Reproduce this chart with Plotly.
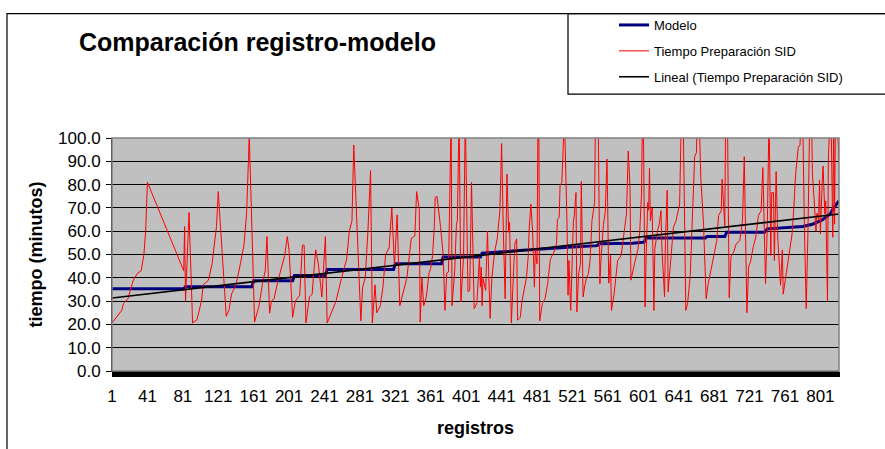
import plotly.graph_objects as go

# ---------------- data ----------------
registro_tiempo = [1, 12, 14, 19, 25, 30, 34, 37, 39, 41, 82, 83, 84, 88, 92, 97, 102, 104, 110, 114,
    119, 121, 130, 133, 136, 141, 146, 150, 153, 156, 162, 167, 171, 174, 176, 179, 181, 184, 188, 193,
    196, 199, 201, 205, 208, 213, 216, 218, 220, 224, 227, 231, 234, 238, 242, 244, 249, 254, 260, 266,
    269, 272, 274, 282, 284, 287, 290, 293, 295, 298, 300, 304, 307, 310, 314, 317, 320, 323, 326, 329,
    334, 339, 343, 345, 348, 349, 351, 353, 356, 359, 361, 363, 365, 366, 368, 372, 375, 377, 379, 381,
    384, 385, 388, 390, 391, 393, 395, 398, 400, 403, 405, 407, 410, 413, 416, 417, 418, 419, 420, 423,
    425, 428, 430, 433, 436, 439, 441, 443, 445, 447, 449, 450, 452, 455, 456, 458, 459, 462, 464, 469,
    471, 472, 474, 476, 478, 479, 481, 482, 483, 484, 487, 490, 493, 496, 500, 503, 504, 506, 507, 509,
    511, 512, 515, 516, 517, 519, 522, 523, 525, 526, 528, 530, 531, 533, 535, 537, 539, 541, 543, 546,
    547, 550, 552, 553, 556, 558, 560, 562, 564, 565, 568, 570, 572, 576, 580, 582, 584, 586, 587, 589,
    591, 595, 597, 599, 600, 601, 603, 604, 606, 607, 608, 609, 611, 613, 614, 617, 619, 621, 622, 625,
    626, 628, 629, 631, 633, 635, 638, 640, 642, 644, 646, 649, 651, 654, 657, 659, 661, 662, 664, 666,
    669, 672, 674, 677, 681, 684, 686, 689, 690, 693, 694, 696, 698, 700, 703, 706, 710, 713, 715, 718,
    720, 722, 725, 728, 731, 734, 736, 739, 741, 743, 745, 746, 748, 749, 751, 753, 756, 758, 759, 762,
    765, 769, 771, 773, 776, 778, 779, 781, 783, 785, 787, 789, 791, 792, 794, 796, 797, 799, 800, 801,
    803, 804, 806, 807, 809, 810, 812, 813, 815, 816, 817, 818, 820, 822]
tiempo_preparacion = [20.6, 26, 29, 31, 39, 42, 43, 50, 60, 81, 43, 62, 30, 68, 20.6, 22, 30, 37, 39, 46,
    62, 77, 23.5, 26, 33, 37, 46, 54, 67.5, 101, 21, 28, 37.6, 43, 57.7, 24.8, 30, 31, 38, 45,
    49.6, 57.7, 51.7, 23, 30, 32.5, 54, 54, 20.6, 31.8, 33, 52, 46, 31.8, 57.7, 20.6, 25, 30, 39.6, 48,
    60, 64.5, 97, 21.5, 36, 40, 60, 86, 20.6, 37, 25, 28, 36, 50, 53, 70, 45, 67, 28, 32.5,
    40, 57, 58, 77, 69.5, 21, 40, 28, 31.8, 42, 44, 49.6, 62, 74.5, 75, 62, 50, 26, 42, 42.5,
    110, 28, 43, 63, 64.5, 110, 29.6, 49, 110, 34, 34.6, 81, 26.8, 29, 49, 36, 44.6, 28, 39.7, 34.6,
    60, 22.6, 40, 51, 56.7, 68.8, 97.6, 58.8, 31, 84.5, 59.5, 63.8, 20.6, 47.4, 54.6, 56.7, 21.8, 23, 30, 40,
    49, 60, 71.6, 60, 36, 52, 46, 110, 110, 21.5, 29, 31, 37.5, 48, 51, 54.6, 65, 66, 79.5, 81,
    110, 110, 60, 32.5, 47.4, 26, 63.8, 66.7, 76.6, 25.4, 41.7, 46, 81.3, 31.8, 36.8, 40.3, 41.7, 48, 64.5, 72.3,
    110, 110, 37.5, 46.7, 63, 68, 91, 37.7, 49.6, 26, 33, 39.6, 47.4, 49.6, 63, 67.4, 94.4, 78.8, 39, 43,
    46, 52.4, 60, 76, 110, 110, 27.5, 46, 72.3, 69, 87, 64.5, 70, 26, 52.4, 60, 63, 68.8, 53, 31.8,
    56, 77.6, 34, 43, 53.8, 61.7, 64.5, 68.8, 71.7, 110, 110, 26, 29, 41, 70, 92, 93.7, 110, 110, 82.3,
    63, 31, 36.8, 42.4, 49, 56, 66.7, 68.8, 82.3, 62.4, 110, 110, 31.5, 49, 51, 54.6, 56, 64.5, 92, 25,
    45, 46.7, 53, 57.4, 66.7, 68.8, 87.3, 37.5, 61.7, 110, 49.6, 76.6, 76.6, 47.4, 85.6, 56, 36.8, 52, 33, 40.3,
    49.6, 58.8, 70, 84.5, 96, 97, 110, 110, 60, 26.8, 61, 110, 110, 84.5, 73, 60, 67.7, 65, 82, 58.8,
    81, 88, 67.4, 73, 30, 91, 110, 110, 57.4, 110, 63, 110, 110, 88.7]

registro_modelo = [1, 82, 84, 159, 161, 205, 207, 242, 244, 319, 321, 373, 375, 417, 419, 447, 467, 516,
    549, 551, 589, 602, 604, 671, 673, 693, 695, 738, 741, 781, 792, 803, 812, 816, 822]
modelo = [35.3, 35.3, 36.2, 36.2, 38.7, 38.7, 41, 41, 43.6, 43.6, 46, 46, 48.9, 48.9, 50.6, 51.3, 52.1, 53.1,
    53.8, 54.6, 54.8, 55.3, 57.1, 57.1, 57.7, 57.7, 59.5, 59.5, 61, 62, 63, 64.8, 67.4, 70, 73]

registro_lineal = [1, 822]
lineal = [31.3, 67.4]

x_tick_vals = list(range(1, 802, 40))
x_tick_text = [str(v) for v in x_tick_vals]
y_tick_vals = list(range(0, 101, 10))
y_tick_text = [f"{v:.1f}" for v in y_tick_vals]

# ---------------- layout helpers (pixels -> paper) ----------------
W, H = 885, 449
L, R, T, B = 112, 46, 137, 78
PW, PH = W - L - R, H - T - B
def px(x):
    return (x - L) / PW
def py(y):
    return (H - B - y) / PH

FONT = "Liberation Sans, Arial, sans-serif"

fig = go.Figure()
fig.add_trace(go.Scatter(x=registro_modelo, y=modelo, mode="lines", name="Modelo",
                         line=dict(color="#000080", width=3), legendgroup="a", legendrank=1))
fig.add_trace(go.Scatter(x=registro_tiempo, y=tiempo_preparacion, mode="lines",
                         name="Tiempo Preparación SID",
                         line=dict(color="#FF0000", width=1), legendgroup="b", legendrank=2))
fig.add_trace(go.Scatter(x=registro_lineal, y=lineal, mode="lines",
                         name="Lineal (Tiempo Preparación SID)",
                         line=dict(color="#000000", width=1.6), legendgroup="c", legendrank=3))

fig.update_layout(
    width=W, height=H,
    margin=dict(l=L, r=R, t=T, b=B, pad=0),
    paper_bgcolor="white",
    plot_bgcolor="#C0C0C0",
    font=dict(family=FONT, color="black"),
    showlegend=True,
    legend=dict(x=px(614), y=py(10), xanchor="left", yanchor="top",
                bgcolor="rgba(0,0,0,0)", borderwidth=0,
                font=dict(family=FONT, size=13, color="black"),
                itemwidth=30, tracegroupgap=6, itemclick=False),
    xaxis=dict(range=[1, 822], tickmode="array", tickvals=x_tick_vals, ticktext=x_tick_text,
               ticks="outside", ticklen=5, tickcolor="black", tickwidth=1,
               tickfont=dict(family=FONT, size=17), ticklabelstandoff=5,
               showline=True, linecolor="black", linewidth=1,
               showgrid=False, zeroline=False,
               minor=dict(tickmode="linear", tick0=1, dtick=1, ticks="outside",
                          ticklen=5, tickcolor="black", tickwidth=1, showgrid=False)),
    yaxis=dict(range=[0, 100], tickmode="array", tickvals=y_tick_vals, ticktext=y_tick_text,
               ticks="outside", ticklen=5, tickcolor="black",
               tickfont=dict(family=FONT, size=17), ticklabelstandoff=2,
               showline=True, linecolor="black", linewidth=1,
               showgrid=True, gridcolor="black", gridwidth=1, zeroline=False),
    shapes=[
        # plot area border (grey top/right)
        dict(type="rect", xref="paper", yref="paper", x0=0, x1=1, y0=0, y1=1,
             line=dict(color="#808080", width=1.5), layer="above"),
        # chart area border
        dict(type="rect", xref="paper", yref="paper", x0=px(7), x1=px(W + 20), y0=py(H + 20), y1=py(12),
             line=dict(color="black", width=1.2)),
        # legend box
        dict(type="rect", xref="paper", yref="paper", x0=px(568), x1=px(W + 20), y0=py(93), y1=py(12),
             line=dict(color="black", width=1.2)),
    ],
    annotations=[
        dict(text="Comparación registro-modelo", xref="paper", yref="paper",
             x=px(77), y=py(41), xanchor="left", yanchor="middle", showarrow=False,
             font=dict(family=FONT, size=25, weight="bold")),
        dict(text="tiempo (minutos)", xref="paper", yref="paper",
             x=px(35), y=0.5, xanchor="center", yanchor="middle", textangle=-90, showarrow=False,
             font=dict(family=FONT, size=18, weight="bold")),
        dict(text="registros", xref="paper", yref="paper",
             x=px(475), y=py(428), xanchor="center", yanchor="middle", showarrow=False,
             font=dict(family=FONT, size=18, weight="bold")),
    ],
)

fig.write_html("out.html", config={"displayModeBar": False},
               post_script="document.body.style.margin='0px';document.body.style.padding='0px';")
